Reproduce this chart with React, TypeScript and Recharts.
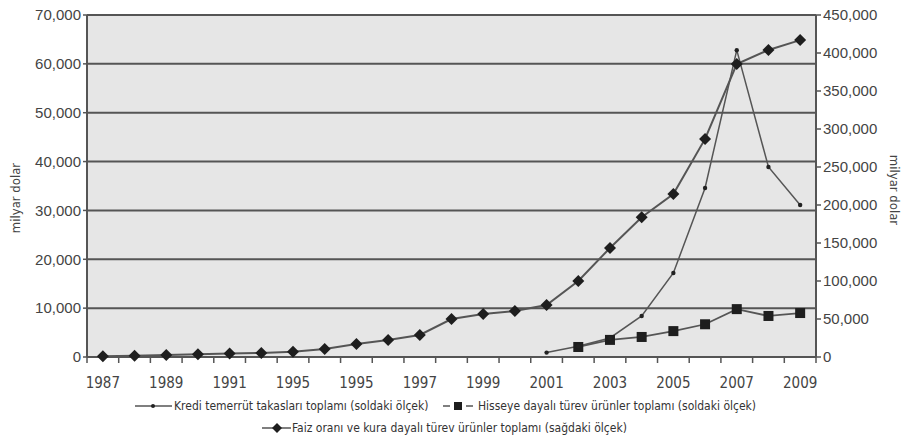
import React from "react"
import { ComposedChart, Line, XAxis, YAxis, CartesianGrid, Label } from "recharts"

// yıllar ve eksen etiketleri
const YEARS = [
  "1987", "1988", "1989", "1990", "1991", "1992", "1993", "1994", "1995", "1996", "1997", "1998",
  "1999", "2000", "2001", "2002", "2003", "2004", "2005", "2006", "2007", "2008", "2009",
]
// referanstaki gibi: 1993 konumunda da "1995" yazıyor
const YEAR_LABELS = [
  "1987", "", "1989", "", "1991", "", "1995", "", "1995", "", "1997", "",
  "1999", "", "2001", "", "2003", "", "2005", "", "2007", "", "2009",
]

// milyar dolar, soldaki ölçek
const CDS = [
  null, null, null, null, null, null, null, null, null, null, null, null,
  null, null, 900, 2200, 3900, 8400, 17200, 34600, 62800, 38900, 31100,
]
const EQUITY = [
  null, null, null, null, null, null, null, null, null, null, null, null,
  null, null, null, 2050, 3500, 4100, 5300, 6700, 9800, 8400, 9000,
]
// milyar dolar, sağdaki ölçek
const RATES = [
  1000, 1500, 2500, 3500, 4500, 5300, 7000, 10500, 17000, 22500, 29000, 50000,
  56500, 60500, 68500, 100000, 143500, 184000, 214500, 287000, 385500, 404000, 417000,
]

const LEFT_TICKS = [0, 10000, 20000, 30000, 40000, 50000, 60000, 70000]
const RIGHT_TICKS = [0, 50000, 100000, 150000, 200000, 250000, 300000, 350000, 400000, 450000]

const SERIES_NAMES = {
  cds: "Kredi temerrüt takasları toplamı (soldaki ölçek)",
  equity: "Hisseye dayalı türev ürünler toplamı (soldaki ölçek)",
  rates: "Faiz oranı ve kura dayalı türev ürünler toplamı (sağdaki ölçek)",
}

const W = 904
const H = 443
const LEFT_W = 87
const RIGHT_W = 88
const TOP = 15
const BOTTOM = 86
const PLOT_W = W - LEFT_W - RIGHT_W
const BAND = PLOT_W / YEARS.length

const INK = "#555"
const NARROW = "'DejaVu Sans', sans-serif"
const SANS = "'Liberation Sans', Arial, sans-serif"

const data = YEARS.map((year, i) => ({
  year,
  cds: CDS[i],
  equity: EQUITY[i],
  rates: RATES[i],
}))

const fmt = (v: number) => v.toLocaleString("en-US")

function YearTick(props: any) {
  const { x, y, index } = props
  const last = index === YEARS.length - 1
  return (
    <g>
      <line x1={x - BAND / 2} x2={x - BAND / 2} y1={y} y2={y + 6} stroke={INK} strokeWidth={1.5} />
      {last && <line x1={x + BAND / 2} x2={x + BAND / 2} y1={y} y2={y + 6} stroke={INK} strokeWidth={1.5} />}
      {YEAR_LABELS[index] && (
        <text
          x={x}
          y={y + 31}
          textAnchor="middle"
          fill="#444"
          fontSize={15}
          fontFamily={NARROW}
          style={{ fontStretch: "condensed" }}
        >
          {YEAR_LABELS[index]}
        </text>
      )}
    </g>
  )
}

function SmallDot(props: any) {
  const { cx, cy, index } = props
  if (cx == null || cy == null || props.value == null) return <g key={`s${index}`} />
  return <circle key={`s${index}`} cx={cx} cy={cy} r={2.2} fill="#222" />
}

function SquareDot(props: any) {
  const { cx, cy, index } = props
  if (cx == null || cy == null || props.value == null) return <g key={`q${index}`} />
  return <rect key={`q${index}`} x={cx - 5} y={cy - 5} width={10} height={10} fill="#1e1e1e" />
}

function DiamondDot(props: any) {
  const { cx, cy, index } = props
  if (cx == null || cy == null) return <g key={`d${index}`} />
  const r = 6
  return (
    <path
      key={`d${index}`}
      d={`M${cx},${cy - r} L${cx + r},${cy} L${cx},${cy + r} L${cx - r},${cy} Z`}
      fill="#1e1e1e"
    />
  )
}

function AxisTitle({ x, y, angle }: { x: number; y: number; angle: number }) {
  return (
    <text
      x={x}
      y={y}
      transform={`rotate(${angle} ${x} ${y})`}
      textAnchor="middle"
      dominantBaseline="central"
      fill="#444"
      fontSize={13}
      fontFamily={NARROW}
      style={{ fontStretch: "condensed" }}
    >
      milyar dolar
    </text>
  )
}

const legendText: React.CSSProperties = {
  position: "absolute",
  fontFamily: NARROW,
  fontStretch: "condensed",
  fontSize: 12,
  color: "#333",
  whiteSpace: "nowrap",
  lineHeight: "16px",
}

function LegendRow() {
  return (
    <>
      <svg style={{ position: "absolute", left: 0, top: 0 }} width={W} height={H} pointerEvents="none">
        <line x1={135} x2={172} y1={406} y2={406} stroke={INK} strokeWidth={1.5} />
        <circle cx={153} cy={406} r={2} fill="#222" />
        <line x1={443} x2={450} y1={406} y2={406} stroke={INK} strokeWidth={1.5} />
        <rect x={454} y={402} width={8} height={8} fill="#1e1e1e" />
        <line x1={466} x2={473} y1={406} y2={406} stroke={INK} strokeWidth={1.5} />
        <line x1={262} x2={291} y1={428} y2={428} stroke={INK} strokeWidth={1.5} />
        <path d="M277,423 L282,428 L277,433 L272,428 Z" fill="#1e1e1e" />
      </svg>
      <div style={{ ...legendText, left: 174, top: 398 }}>{SERIES_NAMES.cds}</div>
      <div style={{ ...legendText, left: 478, top: 398 }}>{SERIES_NAMES.equity}</div>
      <div style={{ ...legendText, left: 292, top: 420 }}>{SERIES_NAMES.rates}</div>
    </>
  )
}

export default function App() {
  return (
    <div style={{ position: "absolute", left: 0, top: 0, width: W, height: H, background: "#fff" }}>
      <ComposedChart
        width={W}
        height={H}
        data={data}
        margin={{ top: TOP, right: 0, bottom: BOTTOM - 30, left: 0 }}
      >
        <CartesianGrid
          yAxisId="left"
          vertical={false}
          stroke={INK}
          strokeWidth={2}
          fill="#e6e6e6"
          fillOpacity={1}
        />
        <XAxis
          dataKey="year"
          interval={0}
          height={30}
          padding={{ left: BAND / 2, right: BAND / 2 }}
          tickLine={false}
          tickSize={0}
          tickMargin={0}
          axisLine={{ stroke: INK, strokeWidth: 2 }}
          tick={<YearTick />}
        />
        <YAxis
          yAxisId="left"
          width={LEFT_W}
          domain={[0, 70000]}
          ticks={LEFT_TICKS}
          tickFormatter={fmt}
          tickSize={4}
          tickMargin={2}
          tickLine={{ stroke: INK, strokeWidth: 1.5 }}
          axisLine={{ stroke: INK, strokeWidth: 2 }}
          tick={{ fill: "#444", fontSize: 15, fontFamily: SANS }}
        >
          <Label content={() => <AxisTitle x={15} y={198} angle={-90} />} />
        </YAxis>
        <YAxis
          yAxisId="right"
          orientation="right"
          width={RIGHT_W}
          domain={[0, 450000]}
          ticks={RIGHT_TICKS}
          tickFormatter={fmt}
          tickSize={5}
          tickMargin={2}
          tickLine={{ stroke: INK, strokeWidth: 1.5 }}
          axisLine={{ stroke: INK, strokeWidth: 2 }}
          tick={{ fill: "#444", fontSize: 15, fontFamily: SANS, textAnchor: "start" }}
        >
          <Label content={() => <AxisTitle x={894} y={190} angle={90} />} />
        </YAxis>
        <Line
          yAxisId="right"
          dataKey="rates"
          name={SERIES_NAMES.rates}
          stroke={INK}
          strokeWidth={2}
          dot={<DiamondDot />}
          activeDot={false}
          isAnimationActive={false}
        />
        <Line
          yAxisId="left"
          dataKey="equity"
          name={SERIES_NAMES.equity}
          stroke={INK}
          strokeWidth={1.8}
          dot={<SquareDot />}
          activeDot={false}
          connectNulls={false}
          isAnimationActive={false}
        />
        <Line
          yAxisId="left"
          dataKey="cds"
          name={SERIES_NAMES.cds}
          stroke={INK}
          strokeWidth={1.5}
          dot={<SmallDot />}
          activeDot={false}
          connectNulls={false}
          isAnimationActive={false}
        />
      </ComposedChart>
      <LegendRow />
    </div>
  )
}
